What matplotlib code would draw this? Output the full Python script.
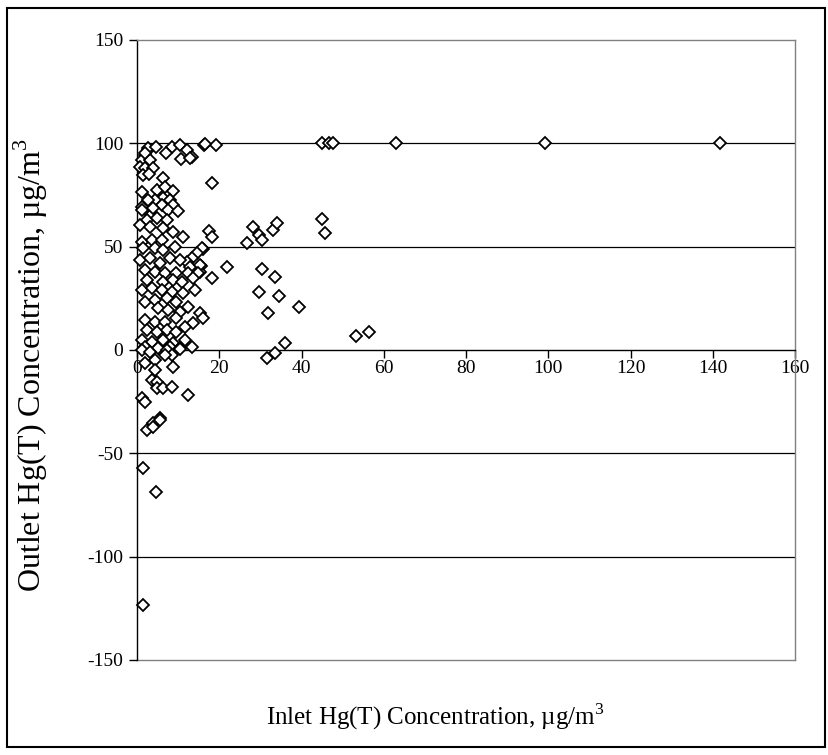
import matplotlib
matplotlib.use('Agg')
import matplotlib.pyplot as plt
from matplotlib.patches import Rectangle

plt.rcParams['font.family'] = 'Liberation Serif'
plt.rcParams['mathtext.fontset'] = 'custom'
plt.rcParams['mathtext.rm'] = 'Liberation Serif'
plt.rcParams['axes.unicode_minus'] = False

# inlet / outlet total mercury, ug/m3
inlet = [44.9, 46.7, 47.6, 62.9, 99.2, 141.7,
         28.1, 29.7, 30.4, 26.7, 33.1, 34.1, 44.9, 45.8,
         30.5, 33.5, 29.7, 34.6, 39.3, 31.8, 36.1, 33.5, 31.7, 53.2, 56.5,
         16.4, 19.2, 18.2, 17.4, 18.2, 16.1, 15.6, 21.8, 18.2, 15.3,
         8.4, 10.5, 16.5, 7.0, 12.1, 13.3, 10.7, 12.9, 2.7, 1.9, 1.1, 3.2,
         0.7, 1.9, 4.0, 1.5, 3.0, 6.4, 1.1, 4.9, 6.8, 8.8, 6.4, 4.4, 2.7,
         8.0, 1.1, 6.0, 8.8, 2.7, 1.9, 4.6, 3.4,
         1.1, 4.0, 7.6, 10.0, 2.4, 4.8, 7.2, 0.7, 3.2, 6.4, 8.8, 11.3,
         1.1, 3.6, 6.0, 1.5, 4.4, 6.4, 9.2, 15.7, 14.5, 13.3, 12.1, 0.7,
         3.2, 5.6, 8.0, 10.5, 12.9, 15.3, 1.9, 4.4, 6.8, 9.6, 12.5, 14.9,
         2.4, 1.1, 3.6, 6.4, 8.8, 10.9, 13.7, 6.0, 8.4, 11.3, 14.1, 1.9,
         4.4, 7.2, 9.6, 12.5, 5.2, 7.6, 10.5, 15.3, 16.1, 13.7, 1.9, 4.4,
         6.8, 9.6, 11.7, 2.4, 4.8, 7.2, 9.6, 1.1, 3.6, 6.4, 8.8, 11.7,
         1.9, 5.2, 8.0, 10.5, 13.3,
         1.1, 3.2, 7.2, 10.5, 8.4, 1.9, 4.4, 6.8, 8.8, 4.4, 3.6, 4.8,
         4.8, 6.4, 8.4, 12.5, 1.1, 1.9, 5.6, 4.0, 2.4, 4.0, 5.6, 1.5,
         4.6, 1.5]
outlet = [100, 100, 100, 100, 100, 100,
          59.7, 55.6, 53.2, 51.6, 58.0, 61.3, 63.2, 56.4,
          39.0, 35.5, 28.0, 26.1, 21.0, 18.0, 3.2, -1.3, -4.0, 6.8, 8.9,
          99.2, 99.2, 81.0, 57.6, 54.5, 48.7, 40.8, 40.3, 35.0, 37.9,
          98.4, 99.2, 99.5, 95.2, 96.8, 93.5, 92.4, 93.0, 96.8, 94.3, 91.9, 92.0,
          88.7, 87.9, 87.9, 84.7, 85.0, 83.0, 76.6, 77.4, 79.0, 77.0, 73.4, 72.6, 72.6,
          72.6, 69.3, 70.1, 70.1, 97.6, 95.2, 98.0, 65.5,
          67.7, 68.5, 67.7, 67.2, 62.9, 63.7, 62.9, 60.5, 59.7, 58.9, 57.3, 54.8,
          52.4, 53.2, 53.2, 49.2, 49.2, 48.4, 50.0, 49.2, 46.8, 44.4, 42.7, 43.5,
          44.4, 41.9, 44.4, 43.5, 40.3, 41.1, 38.7, 37.9, 37.1, 37.1, 37.1, 37.1,
          33.9, 29.0, 29.8, 33.0, 33.9, 33.0, 34.7, 29.0, 28.2, 27.4, 29.0, 23.4,
          24.2, 25.0, 23.4, 21.0, 20.2, 19.4, 18.5, 17.7, 15.3, 12.9, 14.5, 13.7,
          13.7, 15.3, 11.3, 9.7, 8.9, 9.7, 8.9, 4.8, 4.0, 4.8, 3.2, 4.8,
          1.6, 0.8, 1.6, 0.8, 1.6,
          0.0, -0.8, 0.0, 0.5, -2.4, -6.4, -4.8, -2.4, -8.1, -9.7, -14.5, -15.3,
          -18.5, -18.5, -17.7, -21.8, -23.4, -25.0, -33.0, -35.5, -38.7, -37.1, -33.9, -57.2,
          -68.5, -123.4]

xticks = [0, 20, 40, 60, 80, 100, 120, 140, 160]
yticks = [-150, -100, -50, 0, 50, 100, 150]

fig = plt.figure(figsize=(8.29, 7.55), dpi=100)
ax = fig.add_axes([137/829, 95/755, 658/829, 620/755])

for y in [-100, -50, 50, 100]:
    ax.axhline(y, color='black', lw=0.9, zorder=1)

ax.plot(inlet, outlet, linestyle='none', marker='D', markersize=6.5,
        markerfacecolor='white', markeredgecolor='black', markeredgewidth=1.3,
        clip_on=False, zorder=3)

ax.spines['bottom'].set_position(('data', 0))
ax.spines['bottom'].set_color('black')
ax.spines['left'].set_color('black')
ax.spines['top'].set_color('#808080')
ax.spines['right'].set_color('#808080')
for s in ax.spines.values():
    s.set_linewidth(1.0)
# bottom border of the plot area at -150
ax.axhline(-150, color='#808080', lw=1.0, zorder=1, clip_on=False)

ax.set_xlim(0, 160)
ax.set_ylim(-150, 150)
ax.set_xticks(xticks)
ax.set_yticks(yticks)
ax.tick_params(axis='x', direction='out', length=6, width=1, pad=1, labelsize=14)
ax.tick_params(axis='y', direction='out', length=6, width=1, pad=4, labelsize=14)

fig.text(435/829, 1 - 717/755, 'Inlet Hg(T) Concentration, µg/m$^3$',
         fontsize=18, ha='center', va='center')
fig.text(31/829, 1 - 365/755, 'Outlet Hg(T) Concentration, µg/m$^3$',
         fontsize=23, ha='center', va='center', rotation=90)

fig.patches.append(Rectangle((7/829, 8/755), 818/829, 739/755, transform=fig.transFigure,
                             fill=False, edgecolor='black', lw=1.5))

fig.savefig('out.png', dpi=100)
